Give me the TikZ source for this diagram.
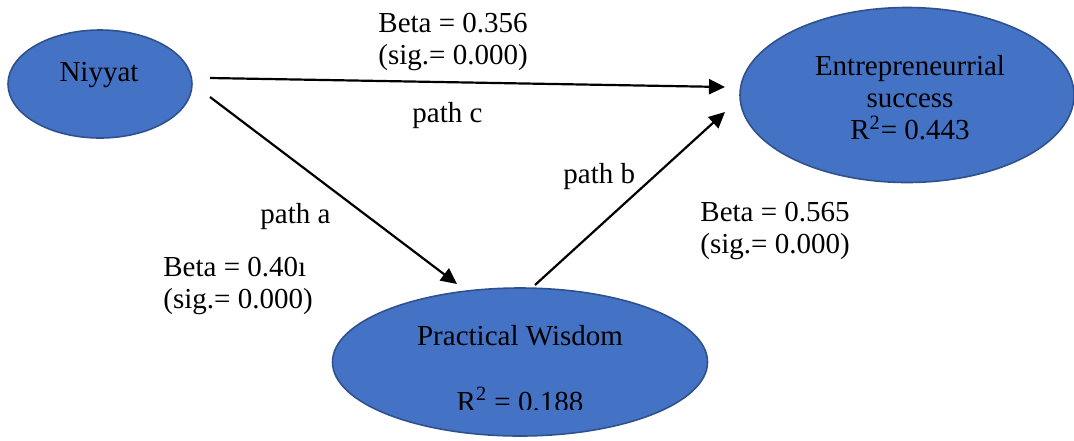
\documentclass[tikz,border=0pt]{standalone}
\usepackage{fontspec}
\setmainfont{Liberation Serif}
\usetikzlibrary{arrows.meta,shapes.geometric}
\definecolor{ellfill}{HTML}{4472C4}
\definecolor{ellborder}{HTML}{2F528F}
\begin{document}
\begin{tikzpicture}[x=0.5pt,y=-0.5pt,
    construct/.style={ellipse,draw=ellborder,fill=ellfill,line width=0.8pt,inner sep=0pt},
    txt/.style={font=\fontsize{14.5}{16}\selectfont,inner sep=0pt,align=center},
    lbl/.style={font=\fontsize{14.5}{16}\selectfont,inner sep=0pt,align=left},
    link/.style={-{Triangle[length=8pt,width=7.5pt]},line width=1.1pt}]
      \useasboundingbox (0,0) rectangle (1074,440);
      % constructs
      \node[construct,minimum width=92pt,minimum height=54pt] (niyyat) at (100,84) {};
      \node[construct,minimum width=167pt,minimum height=87.5pt] (success) at (907,95) {};
      \node[construct,minimum width=187.5pt,minimum height=74pt] (wisdom) at (520,362) {};
      \node[txt] (niyyat text) at (99,75) {Niyyat};
      \node[txt] (success text) at (910,98) {Entrepreneurrial\\success\\R\textsuperscript{2}= 0.443};
      \node[txt,anchor=base] (wisdom text) at (520,345) {Practical Wisdom};
      \begin{scope}
        \clip (400,380) rectangle (640,409);
        \node[txt,anchor=base] (wisdom r2) at (520,411) {R\textsuperscript{2} = 0.188};
      \end{scope}
      % path ends
      \coordinate (c from) at (210,78);
      \coordinate (c to) at (725,87);
      \coordinate (a from) at (210,97);
      \coordinate (a to) at (457,284);
      \coordinate (b from) at (535,285);
      \coordinate (b to) at (725,112);
      \begin{scope}[link]
        \draw (c from) to (c to);
        \draw (a from) to (a to);
        \draw (b from) to (b to);
      \end{scope}
      % labels
      \node[lbl,anchor=north west] (beta c) at (378,13) {Beta = 0.356\\(sig.= 0.000)};
      \node[lbl,anchor=base west] (path c) at (412,122) {path c};
      \node[lbl,anchor=base west] (path a) at (260,223) {path a};
      \node[lbl,anchor=north west] (beta a) at (163,257) {Beta = 0.40ı\\(sig.= 0.000)};
      \node[lbl,anchor=base west] (path b) at (563,183) {path b};
      \node[lbl,anchor=north west] (beta b) at (700,202) {Beta = 0.565\\(sig.= 0.000)};
    \end{tikzpicture}
\end{document}
